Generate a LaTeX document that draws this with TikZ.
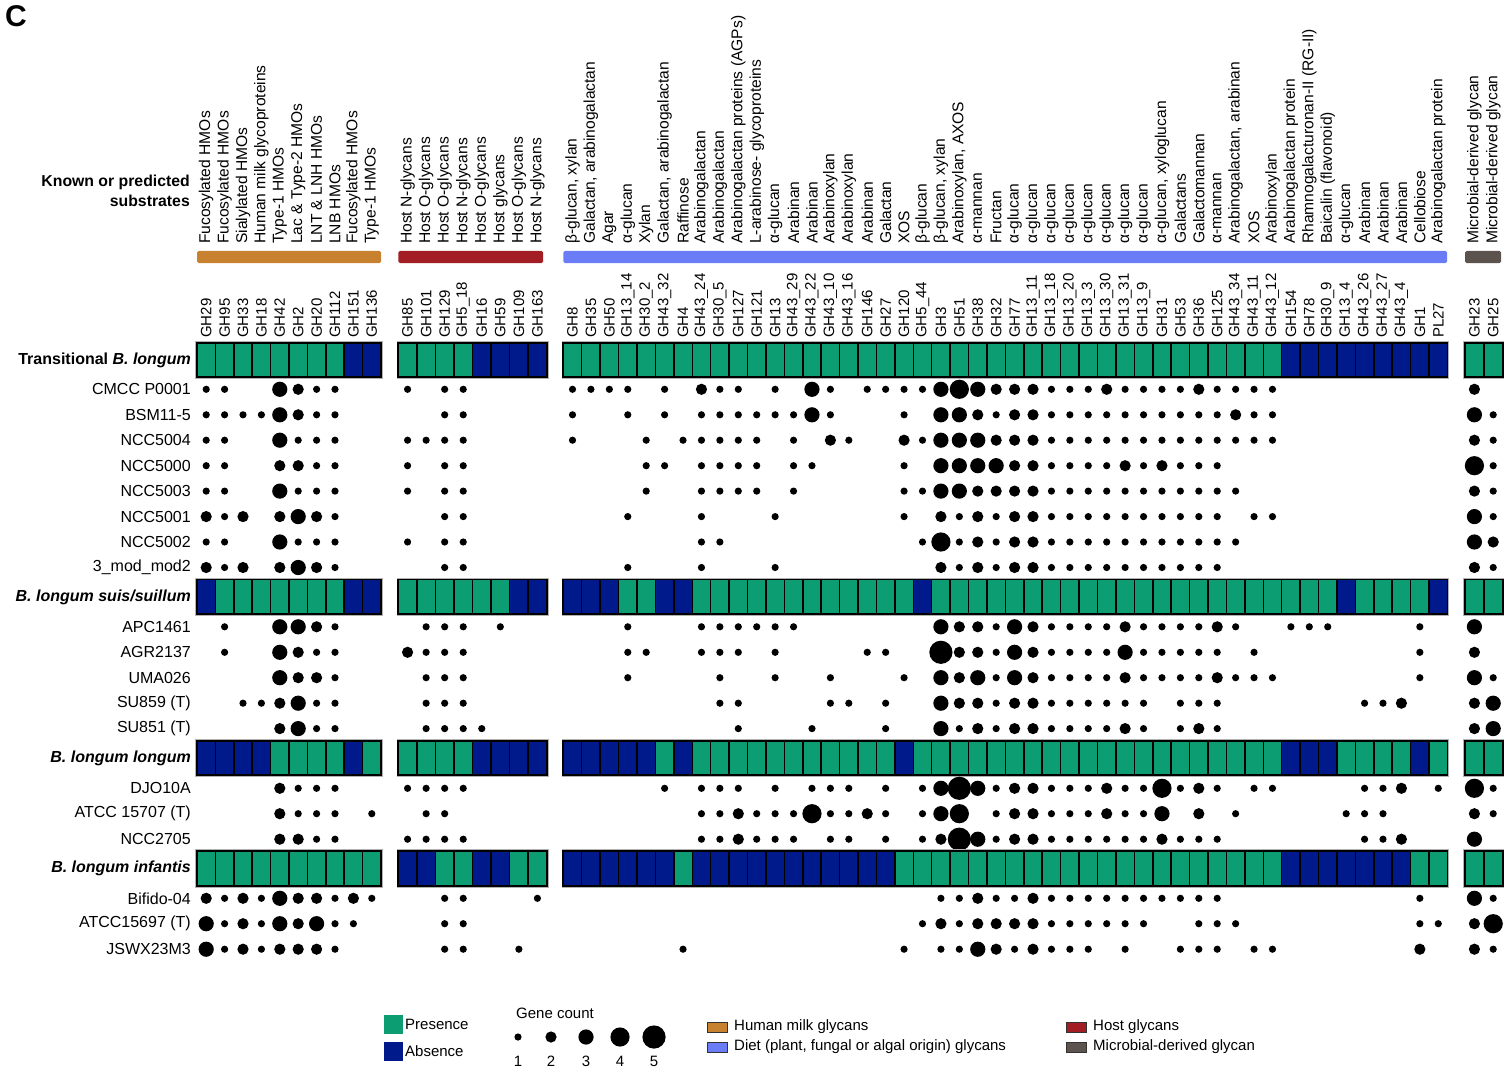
\documentclass[tikz,border=0pt]{standalone}
\usepackage{fontspec}
\setmainfont{Liberation Sans}
\usetikzlibrary{positioning}
\definecolor{presgreen}{HTML}{0C9E72}
\definecolor{absblue}{HTML}{001A8C}
\definecolor{hmcol}{HTML}{C8812F}
\definecolor{hostcol}{HTML}{A31D24}
\definecolor{dietcol}{HTML}{6A7DF7}
\definecolor{microcol}{HTML}{5C534E}

% one row of presence/absence cells: top y, left x, cell width, cells, list
\newcommand{\cellrow}[5]{%
  \draw[boxhalo] (#2,#1) rectangle ++(#4*#3,34.5);
  \foreach \p [count=\i] in {#5} {
    \pgfmathsetmacro{\xa}{#2+(\i-1)*#3}
    \ifnum\p=1 \def\cfill{presgreen}\else\def\cfill{absblue}\fi
    \draw[cell, fill=\cfill] (\xa,#1) rectangle ++(#3,34.5);
  }
  \draw[boxframe] (#2,#1) rectangle ++(#4*#3,34.5);
}
% one row of gene-count dots: y, left x, cell width, list
\newcommand{\dotlist}[4]{%
  \foreach \s [count=\i] in {#4} {
    \ifnum\s>0
      \pgfmathsetmacro{\rr}{1.6+2*\s}
      \fill (#2+\i*#3-0.5*#3,#1) circle[radius=\rr pt];
    \fi
  }
}
% strain: name, y, label, four groups
\newcommand{\strainrow}[7]{%
  \node[strainlab] (#1) at (191,#2) {#3};
  \dotlist{#2}{197}{18.4}{#4}
  \dotlist{#2}{398.3}{18.55}{#5}
  \dotlist{#2}{563.3}{18.42}{#6}
  \dotlist{#2}{1465}{18.8}{#7}
}

\begin{document}
\begin{tikzpicture}[x=1pt, y=-1pt,
  cell/.style={draw=black, line width=1.5pt},
  boxframe/.style={draw=black, line width=1.8pt},
  boxhalo/.style={draw=black!30, line width=3.6pt},
  toplab/.style={rotate=90, anchor=west, inner sep=0pt, font=\fontsize{15}{15}\selectfont},
  sublab/.style={toplab, font=\fontsize{15.6}{15.6}\selectfont},
  strainlab/.style={anchor=east, inner sep=0pt, font=\fontsize{16}{18}\selectfont},
  grouplab/.style={anchor=east, inner sep=0pt, font=\fontsize{16}{18}\selectfont\bfseries},
  legtext/.style={inner sep=0pt, font=\fontsize{15}{17}\selectfont},
  swatch/.style={draw=black!80, line width=0.8pt}
]
\useasboundingbox (0,0) rectangle (1506,1067);

% Panel letter and title
\node[font=\fontsize{30}{30}\selectfont\bfseries] (panel) at (16,16) {C};
\node[anchor=east, align=right, inner sep=0pt, font=\fontsize{15.8}{20}\selectfont\bfseries]
  (subst) at (190,191) {Known or predicted\\substrates};

% Substrate labels
\foreach \t [count=\i] in {Fucosylated HMOs, Fucosylated HMOs, Sialylated HMOs,
  Human milk glycoproteins, Type-1 HMOs, Lac \& Type-2 HMOs, LNT \& LNH HMOs,
  LNB HMOs, Fucosylated HMOs, Type-1 HMOs}
  \node[sublab] (sa\i) at (197+\i*18.4-9.2,244) {\t};
\foreach \t [count=\i] in {Host N-glycans, Host O-glycans, Host O-glycans, Host N-glycans,
  Host O-glycans, Host glycans, Host O-glycans, Host N-glycans}
  \node[sublab] (sb\i) at (398.3+\i*18.55-9.275,244) {\t};
\foreach \t [count=\i] in {{β-glucan, xylan}, {Galactan, arabinogalactan}, Agar, α-glucan,
  Xylan, {Galactan, arabinogalactan}, Raffinose, Arabinogalactan, Arabinogalactan,
  Arabinogalactan proteins (AGPs), L-arabinose- glycoproteins, α-glucan, Arabinan,
  Arabinan, Arabinoxylan, Arabinoxylan, Arabinan, Galactan, XOS, β-glucan,
  {β-glucan, xylan}, {Arabinoxylan, AXOS}, α-mannan, Fructan, α-glucan, α-glucan,
  α-glucan, α-glucan, α-glucan, α-glucan, α-glucan, α-glucan, {α-glucan, xyloglucan},
  Galactans, Galactomannan, α-mannan, {Arabinogalactan, arabinan}, XOS, Arabinoxylan,
  Arabinogalactan protein, Rhamnogalacturonan-II (RG-II), Baicalin (flavonoid),
  α-glucan, Arabinan, Arabinan, Arabinan, Cellobiose, Arabinogalactan protein}
  \node[sublab] (sc\i) at (563.3+\i*18.42-9.21,244) {\t};
\foreach \t [count=\i] in {Microbial-derived glycan, Microbial-derived glycan}
  \node[sublab] (sd\i) at (1465+\i*18.8-9.4,244) {\t};

% Category bars
\fill[hmcol, rounded corners=1.5pt] (197,251) rectangle (381,263);
\fill[hostcol, rounded corners=1.5pt] (398.3,251) rectangle (543,263);
\fill[dietcol, rounded corners=1.5pt] (563.3,251) rectangle (1447,263);
\fill[microcol, rounded corners=1.5pt] (1465,251) rectangle (1501,263);

% GH family labels
\foreach \t [count=\i] in {GH29, GH95, GH33, GH18, GH42, GH2, GH20, GH112, GH151, GH136}
  \node[toplab] (ga\i) at (197+\i*18.4-9.2,338) {\t};
\foreach \t [count=\i] in {GH85, GH101, GH129, GH5\_18, GH16, GH59, GH109, GH163}
  \node[toplab] (gb\i) at (398.3+\i*18.55-9.275,338) {\t};
\foreach \t [count=\i] in {GH8, GH35, GH50, GH13\_14, GH30\_2, GH43\_32, GH4, GH43\_24,
  GH30\_5, GH127, GH121, GH13, GH43\_29, GH43\_22, GH43\_10, GH43\_16, GH146, GH27, GH120,
  GH5\_44, GH3, GH51, GH38, GH32, GH77, GH13\_11, GH13\_18, GH13\_20, GH13\_3, GH13\_30,
  GH13\_31, GH13\_9, GH31, GH53, GH36, GH125, GH43\_34, GH43\_11, GH43\_12, GH154, GH78,
  GH30\_9, GH13\_4, GH43\_26, GH43\_27, GH43\_4, GH1, PL27}
  \node[toplab] (gc\i) at (563.3+\i*18.42-9.21,338) {\t};
\foreach \t [count=\i] in {GH23, GH25}
  \node[toplab] (gd\i) at (1465+\i*18.8-9.4,338) {\t};

% Transitional B. longum
\node[grouplab] (trans) at (191,360) {Transitional \textit{B. longum}};
\cellrow{342.7}{197}{18.4}{10}{1,1,1,1,1,1,1,1,0,0}
\cellrow{342.7}{398.3}{18.55}{8}{1,1,1,1,0,0,0,0}
\cellrow{342.7}{563.3}{18.42}{48}{1,1,1,1,1,1,1,1,1,1,1,1,1,1,1,1,1,1,1,1,1,1,1,1,1,1,1,1,1,1,1,1,1,1,1,1,1,1,1,0,0,0,0,0,0,0,0,0}
\cellrow{342.7}{1465}{18.8}{2}{1,1}
\strainrow{cmcc}{389.3}{CMCC P0001}{1,1,0,0,3,2,1,1,0,0}{1,0,1,1,0,0,0,0}
  {1,1,1,1,0,1,0,2,1,1,0,1,0,3,1,0,1,1,1,1,3,4,3,2,2,2,1,1,1,2,1,1,1,1,2,1,1,1,1,0,0,0,0,0,0,0,0,0}{2,0}
\strainrow{bsm}{414.8}{BSM11-5}{1,1,1,1,3,2,1,1,0,0}{0,0,1,1,0,0,0,0}
  {1,0,0,1,0,1,0,1,1,1,1,1,1,3,1,0,0,0,1,0,3,3,2,1,2,2,1,1,1,1,1,1,1,1,1,1,2,1,1,0,0,0,0,0,0,0,0,0}{3,1}
\strainrow{ncca}{440.2}{NCC5004}{1,1,0,0,3,1,1,1,0,0}{1,1,1,1,0,0,0,0}
  {1,0,0,0,1,0,1,1,1,1,1,0,1,0,2,1,0,0,2,1,3,3,3,2,2,2,1,1,1,1,1,1,1,1,1,1,1,1,1,0,0,0,0,0,0,0,0,0}{2,1}
\strainrow{nccb}{465.7}{NCC5000}{1,1,0,0,2,2,1,1,0,0}{1,0,1,1,0,0,0,0}
  {0,0,0,0,1,1,0,1,1,1,1,0,1,1,0,0,0,0,1,0,3,3,3,3,2,2,1,1,1,1,2,1,2,1,1,1,0,0,0,0,0,0,0,0,0,0,0,0}{4,1}
\strainrow{nccc}{491.1}{NCC5003}{1,1,0,0,3,1,1,1,0,0}{1,0,1,1,0,0,0,0}
  {0,0,0,0,1,0,0,1,1,1,1,0,1,0,0,0,0,0,1,1,3,3,2,2,2,2,1,1,1,1,1,1,1,1,1,1,1,0,0,0,0,0,0,0,0,0,0,0}{2,1}
\strainrow{nccd}{516.6}{NCC5001}{2,1,2,0,2,3,2,1,0,0}{0,0,1,1,0,0,0,0}
  {0,0,0,1,0,0,0,1,0,0,0,1,0,0,0,0,0,0,1,0,2,1,2,1,2,2,1,1,1,1,1,1,1,1,1,1,0,1,1,0,0,0,0,0,0,0,0,0}{3,1}
\strainrow{ncce}{542}{NCC5002}{1,1,0,0,3,1,1,1,0,0}{1,0,1,1,0,0,0,0}
  {0,0,0,0,0,0,0,1,1,0,0,0,0,0,0,0,0,0,0,1,4,1,2,1,2,2,1,1,1,1,1,1,1,1,1,1,1,0,0,0,0,0,0,0,0,0,0,0}{3,2}
\strainrow{mod}{567.5}{3\_mod\_mod2}{2,1,2,0,2,3,2,1,0,0}{0,0,1,1,0,0,0,0}
  {0,0,0,1,0,0,0,1,0,0,0,1,0,0,0,0,0,0,0,0,2,1,2,1,2,2,1,1,1,1,1,1,1,1,1,1,0,0,0,0,0,0,0,0,0,0,0,0}{2,1}

% B. longum suis/suillum
\node[grouplab] (suis) at (191,597) {\textit{B. longum suis/suillum}};
\cellrow{579.5}{197}{18.4}{10}{0,1,1,1,1,1,1,1,0,0}
\cellrow{579.5}{398.3}{18.55}{8}{1,1,1,1,1,1,0,0}
\cellrow{579.5}{563.3}{18.42}{48}{0,0,0,1,1,0,0,1,1,1,1,1,1,1,1,1,1,1,1,0,1,1,1,1,1,1,1,1,1,1,1,1,1,1,1,1,1,1,1,1,1,1,0,1,1,1,1,0}
\cellrow{579.5}{1465}{18.8}{2}{1,1}
\strainrow{apc}{626.8}{APC1461}{0,1,0,0,3,3,2,1,0,0}{0,1,1,1,0,1,0,0}
  {0,0,0,1,0,0,0,1,1,1,1,1,1,0,0,0,0,0,0,0,3,2,2,1,3,2,1,1,1,1,2,1,1,1,1,2,1,0,0,1,1,1,0,0,0,0,1,0}{3,0}
\strainrow{agr}{652.3}{AGR2137}{0,1,0,0,3,2,1,1,0,0}{2,1,1,1,0,0,0,0}
  {0,0,0,1,1,0,0,1,1,1,0,1,0,0,0,0,1,1,0,0,5,2,2,1,3,2,1,1,1,1,3,1,1,1,1,1,0,1,0,0,0,0,0,0,0,0,1,0}{2,0}
\strainrow{uma}{677.7}{UMA026}{0,0,0,0,3,2,2,1,0,0}{0,1,1,1,0,0,0,0}
  {0,0,0,1,0,0,0,0,1,0,0,1,0,0,1,0,0,0,1,0,3,2,3,1,3,2,1,1,1,1,2,1,1,1,1,2,1,1,1,0,0,0,0,0,0,0,1,0}{3,1}
\strainrow{sua}{703.2}{SU859 (T)}{0,0,1,1,2,3,1,1,0,0}{0,1,1,1,0,0,0,0}
  {0,0,0,0,0,0,0,0,1,1,0,0,0,0,1,1,0,1,0,0,3,2,2,1,2,2,1,1,1,1,1,1,0,1,1,1,0,0,0,0,0,0,0,1,1,2,0,0}{2,3}
\strainrow{sub}{728.6}{SU851 (T)}{0,0,0,0,2,3,1,1,0,0}{0,1,1,1,1,0,0,0}
  {0,0,0,0,0,0,0,0,0,1,0,0,0,1,0,0,0,1,0,0,3,1,2,1,2,2,1,1,1,1,2,1,0,1,2,1,0,0,0,0,0,0,0,0,0,0,0,0}{2,3}

% B. longum longum
\node[grouplab] (longum) at (191,758) {\textit{B. longum longum}};
\cellrow{740.7}{197}{18.4}{10}{0,0,0,0,1,1,1,1,0,1}
\cellrow{740.7}{398.3}{18.55}{8}{1,1,1,1,0,0,0,0}
\cellrow{740.7}{563.3}{18.42}{48}{0,0,0,0,0,1,0,1,1,1,1,1,1,1,1,1,1,1,0,1,1,1,1,1,1,1,1,1,1,1,1,1,1,1,1,1,1,1,1,0,0,0,1,1,1,1,0,1}
\cellrow{740.7}{1465}{18.8}{2}{1,1}
\strainrow{djo}{788.3}{DJO10A}{0,0,0,0,2,1,1,1,0,0}{1,1,1,1,0,0,0,0}
  {0,0,0,0,0,1,0,1,1,1,0,1,0,1,1,1,0,1,0,1,3,5,3,1,2,2,1,1,1,2,1,1,4,1,2,1,0,1,1,0,0,0,0,1,1,2,0,1}{4,1}
\strainrow{atcca}{813.7}{ATCC 15707 (T)}{0,0,0,0,2,1,1,1,0,1}{0,1,1,0,0,0,0,0}
  {0,0,0,0,0,0,0,1,1,2,1,1,1,4,1,1,2,1,0,1,3,4,0,1,2,2,1,1,1,2,1,1,3,0,2,0,1,0,0,0,0,0,1,1,1,0,0,0}{2,1}
\strainrow{nccf}{839.2}{NCC2705}{0,0,0,0,2,2,1,1,0,0}{1,1,1,1,0,0,0,0}
  {0,0,0,0,0,0,0,1,1,2,1,1,1,0,1,1,0,1,0,1,2,5,3,1,2,2,1,1,1,1,1,1,2,1,1,1,0,0,0,0,0,0,0,1,1,2,0,0}{3,0}

% B. longum infantis
\node[grouplab] (infantis) at (191,868.5) {\textit{B. longum infantis}};
\cellrow{851.2}{197}{18.4}{10}{1,1,1,1,1,1,1,1,1,1}
\cellrow{851.2}{398.3}{18.55}{8}{0,0,1,1,0,0,1,1}
\cellrow{851.2}{563.3}{18.42}{48}{0,0,0,0,0,0,1,0,0,0,0,0,0,0,0,0,0,0,1,1,1,1,1,1,1,1,1,1,1,1,1,1,1,1,1,1,1,1,1,0,0,0,0,0,0,0,1,1}
\cellrow{851.2}{1465}{18.8}{2}{1,1}
\strainrow{bif}{898.3}{Bifido-04}{2,1,2,1,3,2,2,1,2,1}{0,0,1,1,0,0,0,1}
  {0,0,0,0,0,0,0,0,0,0,0,0,0,0,0,0,0,0,0,0,1,1,2,1,1,2,1,1,1,1,1,1,1,1,1,1,0,0,0,0,0,0,0,0,0,0,1,0}{3,1}
\strainrow{atccb}{923.7}{ATCC15697 (T)}{3,1,2,1,3,2,3,1,1,0}{0,0,1,1,0,0,0,0}
  {0,0,0,0,0,0,0,0,0,0,0,0,0,0,0,0,0,0,0,1,2,1,2,2,2,2,1,1,1,1,1,1,0,0,1,1,1,0,0,0,0,0,0,0,0,0,1,1}{2,4}
\strainrow{jsw}{949.2}{JSWX23M3}{3,1,2,1,2,2,2,1,0,0}{0,0,1,1,0,0,1,0}
  {0,0,0,0,0,0,1,0,0,0,0,0,0,0,0,0,0,0,1,0,1,1,3,2,1,2,1,1,1,0,1,0,0,1,1,1,0,1,1,0,0,0,0,0,0,0,2,0}{2,1}

% Legend
\fill[presgreen] (384,1015) rectangle (403,1034);
\node[legtext, anchor=west] (pres) at (405,1024) {Presence};
\fill[absblue] (384,1042) rectangle (403,1061);
\node[legtext, anchor=west] (abs) at (405,1051) {Absence};
\node[legtext] (gcount) at (555,1013) {Gene count};
\foreach \s/\x in {1/518, 2/551, 3/586, 4/620, 5/654} {
  \pgfmathsetmacro{\rr}{1.6+2*\s}
  \fill (\x,1037) circle[radius=\rr pt];
  \node[legtext] (n\s) at (\x,1061) {\s};
}
\draw[swatch, fill=hmcol] (707,1022) rectangle (727,1032);
\node[legtext, anchor=west] (lhm) at (734,1027) {Human milk glycans};
\draw[swatch, fill=dietcol] (707,1042) rectangle (727,1052);
\node[legtext, anchor=west] (ldiet) at (734,1047) {Diet (plant, fungal or algal origin) glycans};
\draw[swatch, fill=hostcol] (1066,1022) rectangle (1086,1032);
\node[legtext, anchor=west] (lhost) at (1093,1027) {Host glycans};
\draw[swatch, fill=microcol] (1066,1042) rectangle (1086,1052);
\node[legtext, anchor=west] (lmicro) at (1093,1047) {Microbial-derived glycan};
\end{tikzpicture}
\end{document}
